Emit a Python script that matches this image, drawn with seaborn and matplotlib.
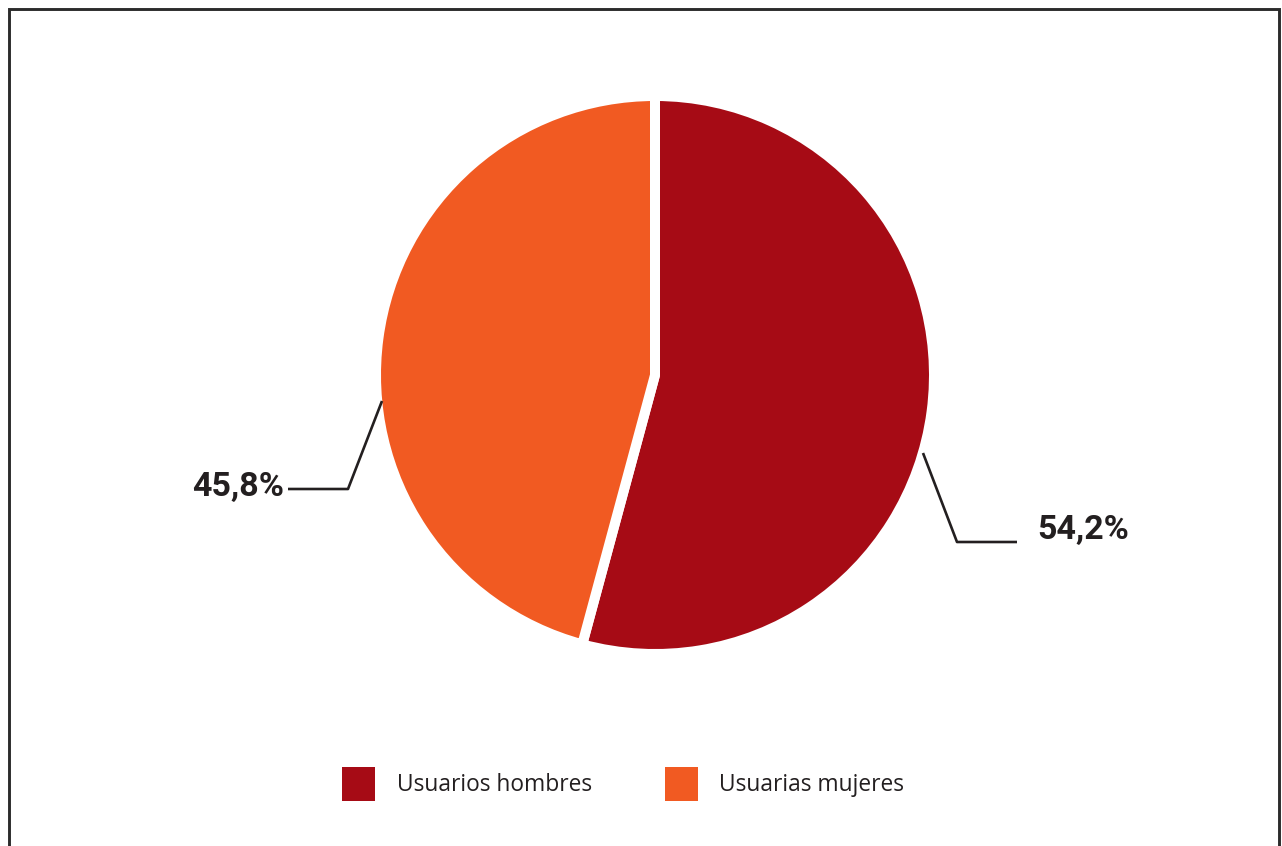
import matplotlib
matplotlib.use("Agg")
import matplotlib.pyplot as plt
from matplotlib.patches import Patch
import seaborn as sns

# data
categorias = ["Usuarios hombres", "Usuarias mujeres"]
porcentajes = [54.2, 45.8]
colores = ["#A60B15", "#F15A22"]

sns.set_theme(style="white")
plt.rcParams['font.family'] = ['Open Sans', 'DejaVu Sans']

W, H = 1282, 846
fig = plt.figure(figsize=(W / 100, H / 100), dpi=100)
ax = fig.add_axes([0, 0, 1, 1])

# pie (pixel coordinates, y up)
cx, cy, r = 655, H - 375, 279
ax.pie(porcentajes, colors=colores, startangle=90, counterclock=False,
       center=(cx, cy), radius=r,
       wedgeprops=dict(edgecolor="white", linewidth=7.2))
ax.set_xlim(0, W)
ax.set_ylim(0, H)
ax.set_aspect("equal")
ax.axis("off")

txt = "#231F20"
# leader lines + labels
guias = [
    [(923, 453), (957, 542), (1017, 542)],
    [(382, 401), (348, 489), (288, 489)],
]
pos_lab = [(1037, 530, "left"), (284, 487, "right")]
for pts, (lx, ly, ha), v in zip(guias, pos_lab, porcentajes):
    xs = [p[0] for p in pts]
    ys = [H - p[1] for p in pts]
    ax.plot(xs, ys, color=txt, lw=1.9, solid_capstyle="butt")
    ax.text(lx, H - ly, f"{v:.1f}".replace(".", ",") + "%", ha=ha, va="center",
            fontsize=24.5, fontweight="bold", color=txt, family=["Roboto", "DejaVu Sans"])

# frame (open at the bottom)
ax.plot([9, 9, 1279, 1279], [0, H - 8.5, H - 8.5, 0], color="#2b2b2b", lw=2.1,
        solid_joinstyle="miter")

# legend
handles = [Patch(facecolor=c, edgecolor="none") for c in colores]
ax.legend(handles, categorias, loc="center left", bbox_to_anchor=(342, H - 784),
          bbox_transform=ax.transData, ncol=2, frameon=False, fontsize=16.4,
          handlelength=1.45, handleheight=1.9, handletextpad=0.95,
          columnspacing=3.2, borderpad=0, borderaxespad=0, labelcolor=txt)

fig.savefig("out.png", dpi=100)
